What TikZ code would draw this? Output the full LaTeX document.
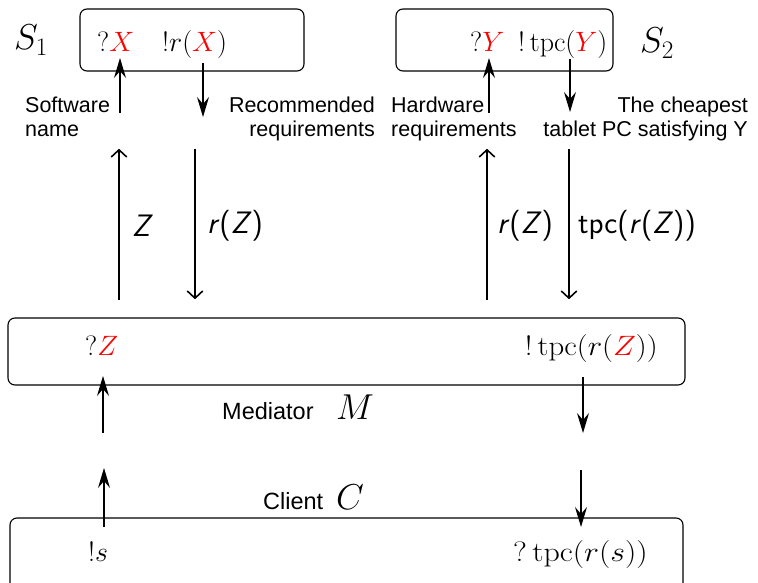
\RequirePackage{fix-cm}
\documentclass[tikz,border=0pt]{standalone}
\usepackage{graphicx}
\usepackage{fontspec}
\newfontfamily\lab{Liberation Sans}
\usetikzlibrary{arrows.meta}
\tikzset{
  box/.style={draw, line width=1.1pt, rounded corners=7pt, inner sep=0pt},
  sarr/.style={line width=1.1pt, -{Stealth[length=20pt,width=12pt,inset=7pt]}},
  marr/.style={line width=1.8pt, -{Straight Barb[length=7pt,width=15pt,line width=1.6pt,round]}},
  lbl/.style={font=\lab\fontsize{21.5}{24}\selectfont, inner sep=0pt},
  mtxt/.style={font=\lab\fontsize{23.5}{26}\selectfont, inner sep=0pt},
  mlbl/.style={font=\fontsize{28}{30}\selectfont, inner sep=0pt},
  slbl/.style={font=\sffamily\fontsize{31}{33}\selectfont, inner sep=0pt},
  bigm/.style={font=\fontsize{36}{40}\selectfont, inner sep=0pt},
}
\newcommand{\tpcop}{\mathop{\mathrm{tpc}}\nolimits}
\begin{document}
\begin{tikzpicture}[x=1pt,y=-1pt]
\clip (0,0) rectangle (758,583);
% boxes
\node[box, minimum width=224pt, minimum height=62pt] (S1box) at (192,40) {};
\node[box, minimum width=217pt, minimum height=62pt] (S2box) at (504.5,40) {};
\node[box, minimum width=677pt, minimum height=67pt] (Mbox) at (346.5,351.5) {};
\node[box, minimum width=673pt, minimum height=90pt] (Cbox) at (346.5,563) {};
% box labels
\node[bigm, anchor=base west] (S1) at (14,50) {$S_1$};
\node[bigm, anchor=base west] (S2) at (640,53) {$S_2$};
\node[bigm, anchor=base west] (Mm) at (336,419) {$M$};
\node[bigm, anchor=base west] (Cm) at (336,509) {$C$};
\node[mtxt, anchor=base west] (Mt) at (222,419) {Mediator};
\node[mtxt, anchor=base west] (Ct) at (263,509) {Client};
% math in boxes
\node[mlbl, anchor=base west] (qX) at (97,52) {$?\textcolor{red}{X}$};
\node[mlbl, anchor=base west] (rX) at (162,52) {$!r(\textcolor{red}{X})$};
\node[mlbl, anchor=base west] (qY) at (470,52) {$?\textcolor{red}{Y}$};
\node[mlbl, anchor=base west] (tY) at (518,52) {$!\tpcop(\textcolor{red}{Y})$};
\node[mlbl, anchor=base west] (qZ) at (85,355) {$?\textcolor{red}{Z}$};
\node[mlbl, anchor=base east] (tZ) at (658,355) {\scalebox{1.1}[1]{$!\tpcop(r(\textcolor{red}{Z}))$}};
\node[mlbl, anchor=base west] (es) at (88,561) {$!s$};
\node[mlbl, anchor=base east] (ts) at (648,561) {\scalebox{1.14}[1]{$?\tpcop(r(s))$}};
% text labels
\node[lbl, anchor=north west, align=left] (sw) at (25,97) {Software\\name};
\node[lbl, anchor=north east, align=right] (rr) at (375,97) {Recommended\\requirements};
\node[lbl, anchor=north west, align=left] (hw) at (391,97) {Hardware\\requirements};
\node[lbl, anchor=north east, align=right] (tc) at (748,97) {The cheapest\\tablet PC satisfying Y};
% middle labels
\node[slbl] (lZ) at (141,226) {\itshape Z};
\node[slbl] (lrZ) at (235,226) {\textit{r}(\textit{Z})};
\node[slbl] (lrZ2) at (525,226) {\textit{r}(\textit{Z})};
\node[slbl] (ltZ) at (637,226) {tpc(\textit{r}(\textit{Z}))};
% small arrows, top
\coordinate (a1s) at (120,113); \coordinate (a1e) at (120,58);
\coordinate (a2s) at (203,63);  \coordinate (a2e) at (203,117);
\coordinate (a3s) at (489,113); \coordinate (a3e) at (489,58);
\coordinate (a4s) at (570,59);  \coordinate (a4e) at (570,112);
\draw[sarr] (a1s) -- (a1e);
\draw[sarr] (a2s) -- (a2e);
\draw[sarr] (a3s) -- (a3e);
\draw[sarr] (a4s) -- (a4e);
% middle arrows
\coordinate (m1s) at (119,300); \coordinate (m1e) at (119,149);
\coordinate (m2s) at (195,149); \coordinate (m2e) at (195,299);
\coordinate (m3s) at (487,300); \coordinate (m3e) at (487,149);
\coordinate (m4s) at (569,149); \coordinate (m4e) at (569,299);
\draw[marr] (m1s) -- (m1e);
\draw[marr] (m2s) -- (m2e);
\draw[marr] (m3s) -- (m3e);
\draw[marr] (m4s) -- (m4e);
% small arrows, bottom
\coordinate (b1s) at (103,433); \coordinate (b1e) at (103,376);
\coordinate (b2s) at (583,377); \coordinate (b2e) at (583,433);
\coordinate (b3s) at (104,527); \coordinate (b3e) at (104,468);
\coordinate (b4s) at (581,470); \coordinate (b4e) at (581,527);
\draw[sarr] (b1s) -- (b1e);
\draw[sarr] (b2s) -- (b2e);
\draw[sarr] (b3s) -- (b3e);
\draw[sarr] (b4s) -- (b4e);
\end{tikzpicture}
\end{document}
